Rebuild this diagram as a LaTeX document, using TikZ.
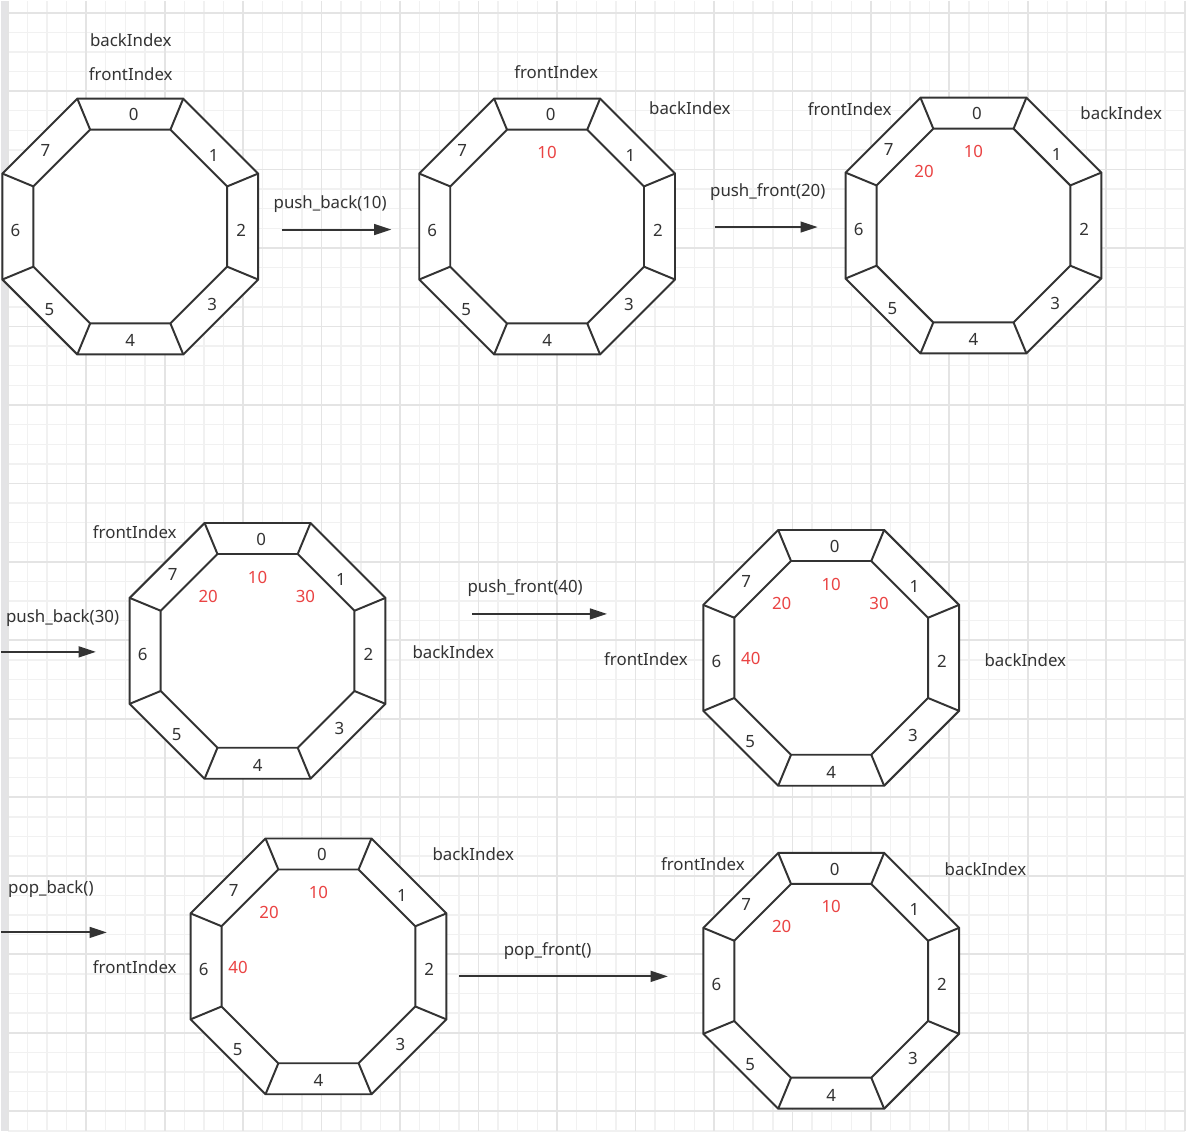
\documentclass[tikz,border=0pt]{standalone}
\usepackage{fontspec}
\setmainfont{Noto Sans}
\usetikzlibrary{arrows.meta, shapes.geometric, calc}
\definecolor{cline}{HTML}{333333}
\definecolor{ctext}{HTML}{333333}
\definecolor{cred}{HTML}{EA4343}
\definecolor{cminor}{HTML}{F1F1F1}
\definecolor{cmajor}{HTML}{E4E4E4}
\definecolor{cedge}{HTML}{E4E4E6}
\tikzset{
  every node/.style={font=\fontsize{12pt}{14pt}\selectfont, text=ctext, inner sep=0pt},
  ringout/.style={regular polygon, regular polygon sides=8, minimum size=6.93cm, draw=cline, fill=white, line width=1.4pt, inner sep=0pt, outer sep=0pt},
  ringin/.style={ringout, minimum size=5.25cm, fill=none},
  spoke/.style={draw=cline, line width=1.4pt},
  idx/.style={},
  val/.style={text=cred},
  tag/.style={},
  op/.style={anchor=base},
  minorgrid/.style={draw=cminor, line width=1pt},
  majorgrid/.style={draw=cmajor, line width=1.3pt},
  arrow/.style={-{Triangle[length=0.43cm, width=0.27cm]}, draw=cline, line width=1.4pt},
}
% one ring buffer of 8 slots: name, centre
\newcommand{\ring}[2]{%
  \node[ringout] (#1) at (#2) {};
  \node[ringin] (#1-in) at (#2) {};
  \foreach \k in {1,...,8}{\draw[spoke] (#1.corner \k) -- (#1-in.corner \k);}
  \foreach \k/\dx/\dy in {0/3.5/-112, 1/83.5/-71.5, 2/111/3.5, 3/82/78,
                          4/0/114.5, 5/-81/83.5, 6/-115/3.5, 7/-85/-76.5}
    {\node[idx] (#1-i\k) at ($(#1)+(\dx,\dy)$) {\k};}
}
% value stored in a slot: ring, slot, value
\newcommand{\slotval}[3]{%
  \ifcase#2 \def\sv{0,-74}\or\def\sv{48,-54}\or\or\or\or\or\def\sv{-80.5,1}\or\def\sv{-49.5,-54}\fi
  \node[val] (#1-v#2) at ($(#1)+(\sv)$) {#3};}

\begin{document}
\begin{tikzpicture}[x=0.025cm, y=-0.025cm]
  % paper
  \fill[white] (0,0) rectangle (1186,1132);
  \fill[cedge] (0,0) rectangle (6.7,1132);
  \foreach \i in {0,...,60}{\draw[minorgrid] ({6.7+19.65*\i},0) -- ++(0,1132);}
  \foreach \j in {0,...,57}{\draw[minorgrid] (6.7,{11.7+19.65*\j}) -- (1186,{11.7+19.65*\j});}
  \foreach \i in {0,...,15}{\draw[majorgrid] ({6.7+78.6*\i},0) -- ++(0,1132);}
  \foreach \j in {0,...,14}{\draw[majorgrid] (6.7,{11.7+78.6*\j}) -- (1186,{11.7+78.6*\j});}

  % rings
  \ring{r1}{129.5,226}
  \ring{r2}{547,226}
  \ring{r3}{974,225}
  \ring{r4}{257,651}
  \ring{r5}{831.5,658}
  \ring{r6}{318,967}
  \ring{r7}{831.5,981.5}

  % stored values
  \slotval{r2}{0}{10}
  \slotval{r3}{0}{10} \slotval{r3}{7}{20}
  \slotval{r4}{0}{10} \slotval{r4}{7}{20} \slotval{r4}{1}{30}
  \slotval{r5}{0}{10} \slotval{r5}{7}{20} \slotval{r5}{1}{30} \slotval{r5}{6}{40}
  \slotval{r6}{0}{10} \slotval{r6}{7}{20} \slotval{r6}{6}{40}
  \slotval{r7}{0}{10} \slotval{r7}{7}{20}

  % front / back pointers
  \node[tag] (b1) at (130,39) {backIndex};
  \node[tag] (f1) at (130,73) {frontIndex};
  \node[tag] (f2) at (556,71) {frontIndex};
  \node[tag] (b2) at (690,107) {backIndex};
  \node[tag] (f3) at (850,108) {frontIndex};
  \node[tag] (b3) at (1122,112) {backIndex};
  \node[tag] (f4) at (134,532) {frontIndex};
  \node[tag] (b4) at (453,652) {backIndex};
  \node[tag] (f5) at (646,659) {frontIndex};
  \node[tag] (b5) at (1026,660) {backIndex};
  \node[tag] (b6) at (473,855) {backIndex};
  \node[tag] (f6) at (134,968) {frontIndex};
  \node[tag] (f7) at (703,865) {frontIndex};
  \node[tag] (b7) at (986,870) {backIndex};

  % operations
  \coordinate (a1s) at (281,229);   \coordinate (a1e) at (391,229);
  \coordinate (a2s) at (715,226.5); \coordinate (a2e) at (818,226.5);
  \coordinate (a3s) at (0,652);     \coordinate (a3e) at (95,652);
  \coordinate (a4s) at (472,614);   \coordinate (a4e) at (607,614);
  \coordinate (a5s) at (0,933);     \coordinate (a5e) at (106,933);
  \coordinate (a6s) at (459,977);   \coordinate (a6e) at (668,977);
  \draw[arrow] (a1s) -- (a1e);
  \draw[arrow] (a2s) -- (a2e);
  \draw[arrow] (a3s) -- (a3e);
  \draw[arrow] (a4s) -- (a4e);
  \draw[arrow] (a5s) -- (a5e);
  \draw[arrow] (a6s) -- (a6e);
  \node[op] (o1) at (329.7,208) {push\_back(10)};
  \node[op] (o2) at (768,196) {push\_front(20)};
  \node[op] (o3) at (61.7,623) {push\_back(30)};
  \node[op] (o4) at (525,593) {push\_front(40)};
  \node[op] (o5) at (50,894) {pop\_back()};
  \node[op] (o6) at (547.5,956) {pop\_front()};
\end{tikzpicture}
\end{document}
